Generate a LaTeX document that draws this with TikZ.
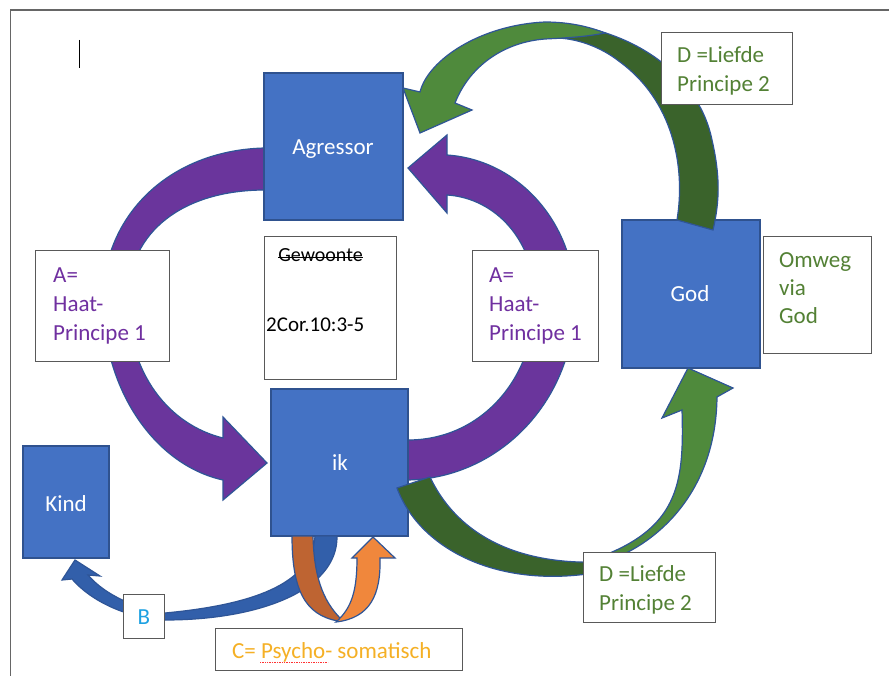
\documentclass[tikz,border=0pt]{standalone}
\usepackage{fontspec}
\setmainfont{Carlito}
\definecolor{boxblue}{HTML}{4472C4}
\definecolor{boxborder}{HTML}{2F528F}
\definecolor{wborder}{HTML}{595959}
\definecolor{arrline}{HTML}{2F5597}
\definecolor{purp}{HTML}{6A359C}
\definecolor{greenL}{HTML}{4F8A3C}
\definecolor{greenD}{HTML}{3A632B}
\definecolor{blueA}{HTML}{325FAA}
\definecolor{brownA}{HTML}{BE6432}
\definecolor{orangeA}{HTML}{F0873C}
\definecolor{txtpurple}{HTML}{7030A0}
\definecolor{txtgreen}{HTML}{538135}
\definecolor{txtblue}{HTML}{1DA1E2}
\definecolor{txtgold}{HTML}{F5B025}
\newcommand\setfs[1]{\fontsize{#1pt}{#1pt}\selectfont}
\begin{document}
\begin{tikzpicture}[x=1pt,y=-1pt,
  bbox/.style={draw=boxborder, fill=boxblue, line width=1.5pt, inner sep=0pt},
  wbox/.style={draw=wborder, fill=white, line width=1pt, inner sep=0pt},
  arr/.style={draw=arrline, line width=1.2pt},
  lbl/.style={inner sep=0pt, font=\setfs{23}},
  frameline/.style={draw=black!60, line width=1.5pt}]
\useasboundingbox (0,0) rectangle (889,676);
\fill[white] (0,0) rectangle (889,676);
% frame lines and cursor
\coordinate (fc) at (10.5,10);
\coordinate (fr) at (889,10);
\coordinate (fb) at (10.5,676);
\draw[frameline] (fr) -- (fc) -- (fb);
\coordinate (cur1) at (79,40);
\coordinate (cur2) at (79,68);
\draw[line width=0.8pt] (cur1) -- (cur2);
% purple arrows
\path[arr, fill=purp] (282,148) -- (265,148) .. controls (170,150) and (103,215) .. (103,300)
  .. controls (103,390) and (155,465) .. (223,480) -- (223,500) -- (267,463) -- (223,417) -- (223,438)
  .. controls (170,425) and (128,375) .. (128,300) .. controls (128,230) and (185,190) .. (265,190) -- (282,190) -- cycle;
\path[arr, fill=purp] (395,480) -- (408,480) .. controls (500,478) and (575,400) .. (575,300)
  .. controls (575,225) and (520,160) .. (447,155) -- (447,135) -- (408,168) -- (447,213) -- (447,195)
  .. controls (495,198) and (535,240) .. (535,300) .. controls (535,380) and (480,440) .. (408,440) -- (395,440) -- cycle;
% blue boxes
\node[bbox, minimum width=139, minimum height=147] (agr) at (333.5,146.5) {};
\node[bbox, minimum width=137, minimum height=147] (ik) at (339.5,462.5) {};
\node[bbox, minimum width=138, minimum height=148] (god) at (691,294) {};
\node[bbox, minimum width=86, minimum height=112] (kind) at (66,502) {};
% green bottom arrow
\path[arr, fill=greenD] (397,488) -- (430,477) .. controls (455,530) and (510,565) .. (600,562) -- (600,572)
  .. controls (500,590) and (420,550) .. (397,488) -- cycle;
\path[arr, fill=greenL] (605,555) .. controls (680,525) and (684,480) .. (682,410) -- (662,418) -- (688,368)
  -- (733,388) -- (717,397) .. controls (716,490) and (660,540) .. (615,558) -- cycle;
% green top arrow
\path[arr, fill=greenD] (555,23) .. controls (640,30) and (700,80) .. (712,140) .. controls (720,175) and (720,200) .. (713,230)
  -- (677,220) .. controls (686,165) and (672,100) .. (620,62) .. controls (600,46) and (575,38) .. (555,38) -- cycle;
\path[arr, fill=greenL] (420,92) .. controls (428,60) and (480,25) .. (545,22) .. controls (570,22) and (590,27) .. (605,33)
  .. controls (585,37) and (565,38) .. (545,39) .. controls (505,42) and (470,65) .. (455,103)
  -- (472,110) -- (420,133) -- (403,88) -- cycle;
% blue B arrow
\path[arr, fill=blueA] (315,536) .. controls (312,585) and (250,605) .. (165,613) .. controls (135,608) and (105,595) .. (88,575)
  -- (100,576) -- (75,560) -- (62,580) -- (72,579) .. controls (90,600) and (125,618) .. (165,620)
  .. controls (260,620) and (338,590) .. (337,536) -- cycle;
% brown and orange C arrow
\path[arr, fill=brownA] (292,536) .. controls (292,590) and (305,615) .. (338,621) -- (341,619)
  .. controls (322,600) and (314,575) .. (313,536) -- cycle;
\path[arr, fill=orangeA] (336,622) .. controls (352,608) and (357,590) .. (357,558) -- (352,558) -- (373,537)
  -- (395,558) -- (380,558) .. controls (381,595) and (370,618) .. (336,622) -- cycle;
% white boxes
\node[wbox, minimum width=132, minimum height=142] (gew) at (330,308) {};
\node[wbox, minimum width=134, minimum height=110] (aL) at (102,306) {};
\node[wbox, minimum width=126, minimum height=110] (aR) at (535,306) {};
\node[wbox, minimum width=108, minimum height=116] (omw) at (817,295) {};
\node[wbox, minimum width=131, minimum height=72] (dT) at (726.5,69) {};
\node[wbox, minimum width=132, minimum height=70] (dB) at (649,587) {};
\node[wbox, minimum width=41, minimum height=44] (bB) at (143.5,616) {};
\node[wbox, minimum width=247, minimum height=42] (cB) at (338.5,649) {};
% texts
\node[lbl, text=white, anchor=base] (agrT) at (333,155) {Agressor};
\node[lbl, text=white, anchor=base] (ikT) at (340,470) {ik};
\node[lbl, text=white, anchor=base] (godT) at (690,302) {God};
\node[lbl, text=white, anchor=base] (kindT) at (66,511) {Kind};
\node[lbl, font=\setfs{20}, anchor=base] (gewT) at (320.5,262) {Gewoonte};
\draw[line width=1.1pt] ([yshift=4.7pt]gewT.base west) -- ([yshift=4.7pt]gewT.base east);
\node[lbl, font=\setfs{21}, anchor=base west] (corT) at (266,332) {2Cor.10:3-5};
\node[lbl, text=txtpurple, anchor=base west] (aL1) at (53,283) {A=};
\node[lbl, text=txtpurple, anchor=base west] (aL2) at (53,312) {Haat-};
\node[lbl, text=txtpurple, anchor=base west] (aL3) at (53,341) {Principe 1};
\node[lbl, text=txtpurple, anchor=base west] (aR1) at (489,283) {A=};
\node[lbl, text=txtpurple, anchor=base west] (aR2) at (489,312) {Haat-};
\node[lbl, text=txtpurple, anchor=base west] (aR3) at (489,341) {Principe 1};
\node[lbl, text=txtgreen, anchor=base west] (om1) at (779,268) {Omweg};
\node[lbl, text=txtgreen, anchor=base west] (om2) at (779,296) {via};
\node[lbl, text=txtgreen, anchor=base west] (om3) at (779,324) {God};
\node[lbl, text=txtgreen, anchor=base west] (dT1) at (677,63) {D =Liefde};
\node[lbl, text=txtgreen, anchor=base west] (dT2) at (677,92) {Principe 2};
\node[lbl, text=txtgreen, anchor=base west] (dB1) at (599,581) {D =Liefde};
\node[lbl, text=txtgreen, anchor=base west] (dB2) at (599,610) {Principe 2};
\node[lbl, text=txtblue, anchor=base] (bT) at (144,624) {B};
\node[lbl, text=txtgold, anchor=base west] (cT) at (232,658) {C= Psycho- somatisch};
\coordinate (sq1) at (260,662);
\coordinate (sq2) at (328,662);
\draw[red!80, densely dotted, line width=0.7pt] (sq1) -- (sq2);
\end{tikzpicture}
\end{document}
